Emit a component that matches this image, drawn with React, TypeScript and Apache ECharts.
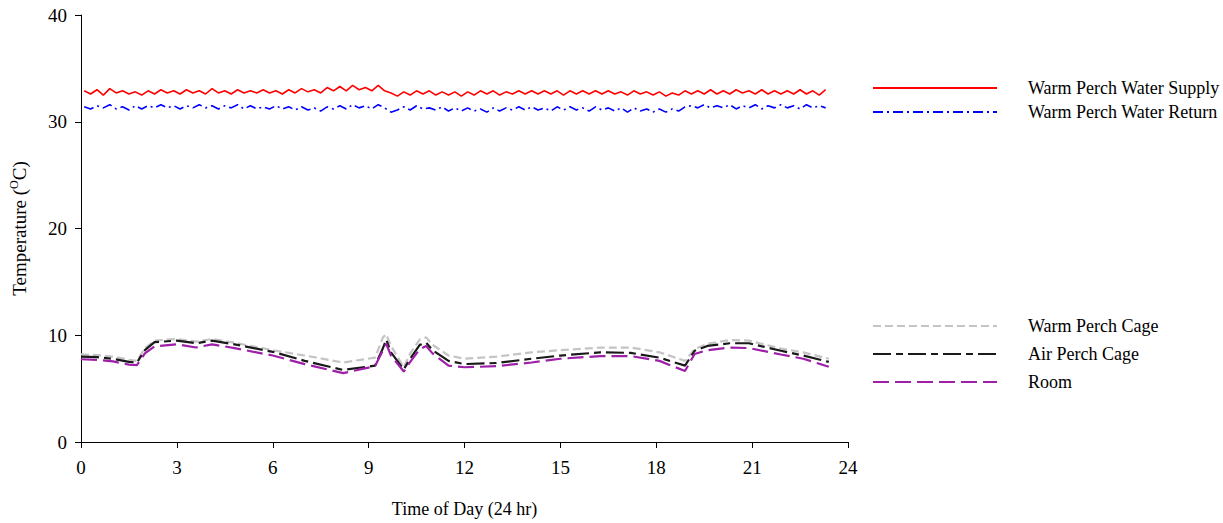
import React, { useEffect, useRef } from "react";
import * as echarts from "echarts";

const xTicks = [0, 3, 6, 9, 12, 15, 18, 21, 24];
const yTicks = [0, 10, 20, 30, 40];

const seriesNames = [
  "Warm Perch Water Supply",
  "Warm Perch Water Return",
  "Warm Perch Cage",
  "Air Perch Cage",
  "Room",
];

// water readings every 0.2 h starting at 0.1 h
const waterStart = 0.1;
const waterStep = 0.2;

const waterSupply = [
  32.9, 32.6, 33.0, 32.5, 33.1, 32.7, 32.9, 32.6, 32.8, 32.5,
  32.9, 32.6, 33.0, 32.7, 32.9, 32.6, 33.0, 32.7, 32.9, 32.6,
  33.1, 32.7, 32.9, 32.6, 33.0, 32.7, 32.9, 32.7, 33.0, 32.7,
  32.9, 32.6, 33.0, 32.7, 33.1, 32.8, 33.0, 32.7, 33.2, 32.9,
  33.3, 32.9, 33.4, 33.0, 33.2, 32.9, 33.4, 32.9, 32.7, 32.4,
  32.8, 32.5, 32.9, 32.6, 32.9, 32.5, 32.8, 32.5, 32.8, 32.4,
  32.8, 32.5, 32.9, 32.6, 32.9, 32.5, 32.8, 32.6, 32.9, 32.6,
  32.9, 32.6, 32.9, 32.6, 32.9, 32.5, 32.9, 32.6, 32.9, 32.6,
  32.9, 32.6, 32.9, 32.6, 32.8, 32.5, 32.9, 32.6, 32.8, 32.5,
  32.8, 32.4, 32.7, 32.5, 32.9, 32.6, 32.9, 32.6, 33.0, 32.6,
  32.9, 32.6, 33.0, 32.7, 32.9, 32.6, 33.0, 32.6, 32.9, 32.6,
  32.9, 32.6, 33.0, 32.6, 32.9, 32.5, 33.0,
];

const waterReturn = [
  31.4, 31.2, 31.5, 31.3, 31.6, 31.2, 31.4, 31.1, 31.5, 31.2,
  31.5, 31.3, 31.6, 31.3, 31.5, 31.2, 31.5, 31.3, 31.6, 31.3,
  31.5, 31.2, 31.5, 31.3, 31.6, 31.2, 31.5, 31.2, 31.4, 31.2,
  31.5, 31.2, 31.4, 31.1, 31.4, 31.1, 31.3, 31.0, 31.4, 31.2,
  31.5, 31.2, 31.6, 31.3, 31.5, 31.2, 31.6, 31.3, 30.9, 31.1,
  31.4, 31.1, 31.5, 31.2, 31.3, 31.1, 31.4, 31.0, 31.3, 31.0,
  31.3, 31.0, 31.2, 30.9, 31.3, 31.0, 31.3, 31.1, 31.4, 31.1,
  31.4, 31.1, 31.3, 31.0, 31.4, 31.1, 31.4, 31.1, 31.3, 31.0,
  31.4, 31.1, 31.3, 31.0, 31.3, 30.9, 31.3, 31.0, 31.2, 30.9,
  31.2, 30.9, 31.2, 31.0, 31.4, 31.5, 31.3, 31.6, 31.3, 31.5,
  31.3, 31.6, 31.2, 31.5, 31.3, 31.6, 31.2, 31.5, 31.3, 31.6,
  31.3, 31.5, 31.2, 31.6, 31.3, 31.5, 31.3,
];

// cage / room readings: [hour, °C]
const warmCage = [
  [0, 8.2], [0.5, 8.15], [1, 8.0], [1.5, 7.7], [1.75, 7.6], [2.0, 8.8], [2.3, 9.5],
  [3, 9.65], [3.6, 9.4], [4.1, 9.65], [4.8, 9.3], [6, 8.6], [7, 8.1], [8.2, 7.45],
  [9.2, 7.9], [9.45, 9.8], [9.55, 10.1], [9.7, 9.0], [10.1, 7.0], [10.3, 8.3],
  [10.6, 9.6], [10.8, 9.8], [11, 9.1], [11.5, 8.1], [12, 7.8], [13, 8.0], [14.1, 8.4],
  [15, 8.6], [16.25, 8.85], [17.2, 8.85], [18.1, 8.4], [18.9, 7.6], [19.2, 8.7],
  [19.6, 9.2], [20.3, 9.55], [20.9, 9.5], [21.9, 8.75], [22.6, 8.4], [23.4, 7.8],
];

const airCage = [
  [0, 8.0], [0.5, 7.95], [1, 7.8], [1.5, 7.5], [1.75, 7.45], [2.0, 8.6], [2.3, 9.35],
  [3, 9.5], [3.6, 9.25], [4.1, 9.5], [4.8, 9.15], [6, 8.45], [7, 7.6], [8.2, 6.75],
  [9.2, 7.15], [9.45, 8.8], [9.55, 9.6], [9.7, 8.4], [10.1, 6.8], [10.3, 7.8],
  [10.6, 9.1], [10.8, 9.3], [11, 8.6], [11.5, 7.6], [12, 7.3], [13, 7.4], [14.1, 7.8],
  [15, 8.1], [16.25, 8.4], [17.2, 8.35], [18.1, 7.9], [18.9, 7.15], [19.2, 8.55],
  [19.6, 9.0], [20.3, 9.25], [20.9, 9.25], [21.9, 8.55], [22.6, 8.1], [23.4, 7.5],
];

const room = [
  [0, 7.75], [0.5, 7.7], [1, 7.55], [1.5, 7.25], [1.75, 7.2], [2.0, 8.3], [2.3, 8.95],
  [3, 9.15], [3.6, 8.85], [4.1, 9.15], [4.8, 8.8], [6, 8.1], [7, 7.3], [8.2, 6.45],
  [9.2, 7.1], [9.45, 8.6], [9.55, 9.2], [9.7, 8.1], [10.1, 6.6], [10.3, 7.5],
  [10.6, 8.7], [10.8, 9.0], [11, 8.3], [11.5, 7.15], [12, 7.0], [13, 7.1], [14.1, 7.45],
  [15, 7.8], [16.25, 8.05], [17.2, 8.05], [18.1, 7.6], [18.9, 6.65], [19.2, 8.25],
  [19.6, 8.6], [20.3, 8.85], [20.9, 8.8], [21.9, 8.2], [22.6, 7.8], [23.4, 7.05],
];

const FONT = "'Liberation Serif', 'Times New Roman', serif";

export default function App() {
  const ref = useRef<HTMLDivElement>(null);

  useEffect(() => {
    document.body.style.margin = "0";
    if (!ref.current) return;
    const chart = echarts.init(ref.current, null, { renderer: "svg" });

    const toPairs = (arr: number[]) =>
      arr.map((v, i) => [+(waterStart + i * waterStep).toFixed(2), v]);

    const legendText = {
      fontFamily: FONT,
      fontSize: 18,
      color: "#000",
      padding: [0, 0, 0, 26],
    };

    chart.setOption({
      animation: false,
      backgroundColor: "#ffffff",
      grid: { left: 80, right: 375, top: 15, bottom: 80, containLabel: false },
      xAxis: {
        type: "value",
        min: xTicks[0],
        max: xTicks[xTicks.length - 1],
        interval: 3,
        name: "Time of Day (24 hr)",
        nameLocation: "middle",
        nameGap: 58,
        nameTextStyle: { fontFamily: FONT, fontSize: 18, color: "#000" },
        axisLine: { lineStyle: { color: "#000", width: 1 } },
        axisTick: { show: true, inside: false, length: 6, lineStyle: { color: "#000" } },
        axisLabel: { fontFamily: FONT, fontSize: 19, color: "#000", margin: 16 },
        splitLine: { show: false },
      },
      yAxis: {
        type: "value",
        min: yTicks[0],
        max: yTicks[yTicks.length - 1],
        interval: 10,
        name: "Temperature ({sup|O}C)",
        nameLocation: "middle",
        nameGap: 50,
        nameRotate: 90,
        nameTextStyle: {
          fontFamily: FONT,
          fontSize: 19,
          color: "#000",
          rich: {
            sup: { fontFamily: FONT, fontSize: 12, color: "#000", padding: [0, 0, 11, 0] },
          },
        },
        axisLine: { show: true, lineStyle: { color: "#000", width: 1 } },
        axisTick: { show: true, inside: false, length: 6, lineStyle: { color: "#000" } },
        axisLabel: { fontFamily: FONT, fontSize: 19, color: "#000", margin: 14 },
        splitLine: { show: false },
      },
      legend: [
        {
          orient: "vertical",
          left: 872,
          top: 79,
          padding: 0,
          itemWidth: 124,
          itemHeight: 14,
          itemGap: 6,
          itemStyle: { opacity: 0 },
          data: [seriesNames[0], seriesNames[1]],
          textStyle: legendText,
        },
        {
          orient: "vertical",
          left: 872,
          top: 317,
          padding: 0,
          itemWidth: 124,
          itemHeight: 14,
          itemGap: 10,
          itemStyle: { opacity: 0 },
          data: [seriesNames[2], seriesNames[3], seriesNames[4]],
          textStyle: legendText,
        },
      ],
      series: [
        {
          name: seriesNames[0],
          type: "line",
          symbol: "none",
          data: toPairs(waterSupply),
          lineStyle: { color: "#ff0000", width: 1.6, type: "solid" },
          itemStyle: { color: "#ff0000" },
        },
        {
          name: seriesNames[1],
          type: "line",
          symbol: "none",
          data: toPairs(waterReturn),
          lineStyle: { color: "#0000ff", width: 1.6, type: [10, 4, 2, 4] },
          itemStyle: { color: "#0000ff" },
        },
        {
          name: seriesNames[2],
          type: "line",
          symbol: "none",
          data: warmCage,
          lineStyle: { color: "#c4c4c4", width: 2.2, type: [8, 4] },
          itemStyle: { color: "#c4c4c4" },
        },
        {
          name: seriesNames[3],
          type: "line",
          symbol: "none",
          data: airCage,
          lineStyle: { color: "#1a1a1a", width: 2.2, type: [18, 5, 7, 5] },
          itemStyle: { color: "#1a1a1a" },
        },
        {
          name: seriesNames[4],
          type: "line",
          symbol: "none",
          data: room,
          lineStyle: { color: "#9e1fa8", width: 2.2, type: [16, 6] },
          itemStyle: { color: "#9e1fa8" },
        },
      ],
    });

    return () => chart.dispose();
  }, []);

  return <div ref={ref} style={{ width: 1223, height: 523 }} />;
}
